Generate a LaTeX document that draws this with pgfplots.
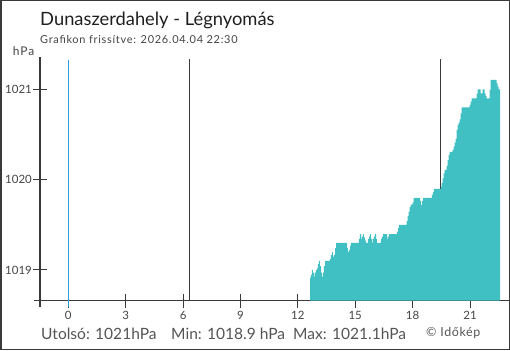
\documentclass[border=0pt]{standalone}
\usepackage{fontspec}
\setmainfont{Lato}
\usepackage{pgfplots}
\pgfplotsset{compat=1.18}
\definecolor{fillc}{HTML}{40C0C2}
\definecolor{bluel}{HTML}{2C9BD8}
\definecolor{darkl}{HTML}{3A3A3A}
\definecolor{txt}{HTML}{444444}
\definecolor{txtb}{HTML}{555555}
\begin{document}
\begin{tikzpicture}[x=1bp,y=1bp]
\draw[draw=darkl, line width=1.5bp] (0.75,0.75) rectangle (509.25,349.25);
\node[anchor=base west, inner sep=0, text=black!88, font=\fontsize{18.4}{21}\selectfont] at (40,324.3) {Dunaszerdahely - Légnyomás};
\node[anchor=base west, inner sep=0, text=txt, font=\fontsize{11}{13}\selectfont\addfontfeature{LetterSpace=6.5}] at (40,306.7) {Grafikon frissítve: 2026.04.04 22:30};
\node[anchor=base west, inner sep=0, text=txt, font=\fontsize{12}{13}\selectfont\addfontfeature{LetterSpace=8}] at (12.7,295) {hPa};
\node[anchor=base west, inner sep=0, text=txtb, font=\fontsize{15.6}{17}\selectfont] at (41,10.7) {Utolsó: 1021hPa};
\node[anchor=base west, inner sep=0, text=txtb, font=\fontsize{15.6}{17}\selectfont] at (171,10.7) {Min: 1018.9 hPa};
\node[anchor=base west, inner sep=0, text=txtb, font=\fontsize{15.6}{17}\selectfont] at (293,10.7) {Max: 1021.1hPa};
\node[anchor=base west, inner sep=0, text=txtb, font=\fontsize{12.5}{14}\selectfont\addfontfeature{LetterSpace=5}] at (426,13.3) {© Időkép};
\begin{axis}[
  at={(40bp,49.3bp)}, anchor=south west, scale only axis,
  width=465bp, height=240.7bp,
  xmin=-1.479, xmax=22.829, ymin=1018.66, ymax=1021.324,
  axis x line=bottom, axis y line=left,
  axis line style={-, draw=none},
  clip=false,
  xtick={0,3,6,9,12,15,18,21},
  ytick={1019,1020,1021},
  tick align=center, major tick length=14bp,
  tick style={draw=darkl, line width=1bp},
  /pgf/number format/assume math mode=true,
  /pgf/number format/1000 sep={},
  tick label style={text=txt, font=\fontsize{11.5}{13}\selectfont},
  xticklabel style={anchor=north, inner sep=0pt, yshift=-3bp},
  yticklabel style={anchor=east, inner sep=0pt, xshift=-1bp},
]
\draw[darkl, line width=1.1bp] (axis cs:-1.793,1018.66) -- (axis cs:23.037,1018.66);
\draw[darkl, line width=1.1bp] (axis cs:-1.479,1018.594) -- (axis cs:-1.479,1021.357);
\addplot[bluel, line width=1.3bp] coordinates {(0,1018.590) (0,1021.324)};
\addplot[darkl, line width=1.2bp] coordinates {(6.34,1018.66) (6.34,1021.335)};
\addplot[darkl, line width=1.2bp] coordinates {(19.45,1018.66) (19.45,1021.335)};
\addplot[fill=fillc, draw=none, const plot mark left] coordinates {
(12.635,1018.66) (12.635,1018.915) (12.687,1018.945) (12.739,1019.000) (12.791,1018.970)
(12.844,1018.926) (12.896,1018.970) (12.948,1019.000) (13.001,1019.019) (13.053,1019.066)
(13.105,1019.100) (13.157,1019.044) (13.210,1018.970) (13.262,1018.926) (13.314,1018.970)
(13.366,1019.044) (13.419,1019.100) (13.680,1019.122) (13.732,1019.166) (13.785,1019.199)
(13.837,1019.147) (13.889,1019.166) (13.942,1019.243) (13.994,1019.299) (14.569,1019.243)
(14.621,1019.199) (14.673,1019.221) (14.726,1019.266) (14.778,1019.299) (15.196,1019.343)
(15.248,1019.398) (15.301,1019.343) (15.353,1019.369) (15.405,1019.398) (15.457,1019.360)
(15.510,1019.324) (15.562,1019.299) (15.666,1019.343) (15.719,1019.369) (15.771,1019.398)
(15.823,1019.343) (15.876,1019.299) (15.928,1019.343) (15.980,1019.369) (16.032,1019.398)
(16.085,1019.343) (16.137,1019.299) (16.346,1019.343) (16.398,1019.369) (16.451,1019.398)
(16.660,1019.343) (16.712,1019.369) (16.764,1019.398) (17.182,1019.424) (17.235,1019.465)
(17.287,1019.498) (17.690,1019.542) (17.742,1019.598) (17.794,1019.645) (17.846,1019.697)
(17.899,1019.723) (18.003,1019.749) (18.056,1019.797) (18.385,1019.764) (18.437,1019.719)
(18.489,1019.764) (18.542,1019.797) (19.012,1019.830) (19.064,1019.863) (19.116,1019.897)
(19.482,1019.919) (19.519,1019.960) (19.572,1020.015) (19.624,1020.070) (19.676,1020.107)
(19.781,1020.151) (19.833,1020.217) (19.885,1020.273) (19.937,1020.306) (20.094,1020.328)
(20.146,1020.365) (20.199,1020.409) (20.251,1020.450) (20.303,1020.550) (20.356,1020.605)
(20.408,1020.630) (20.460,1020.668) (20.512,1020.734) (20.565,1020.801) (20.983,1020.826)
(21.035,1020.863) (21.088,1020.900) (21.349,1020.948) (21.401,1021.000) (21.558,1020.956)
(21.662,1021.000) (21.767,1020.954) (21.819,1020.926) (21.871,1020.900) (22.028,1020.992)
(22.081,1021.103) (22.394,1021.066) (22.447,1021.029) (22.499,1021.000) (22.567,1021.000)
(22.567,1018.66)
} -- cycle;
\end{axis}
\end{tikzpicture}
\end{document}
